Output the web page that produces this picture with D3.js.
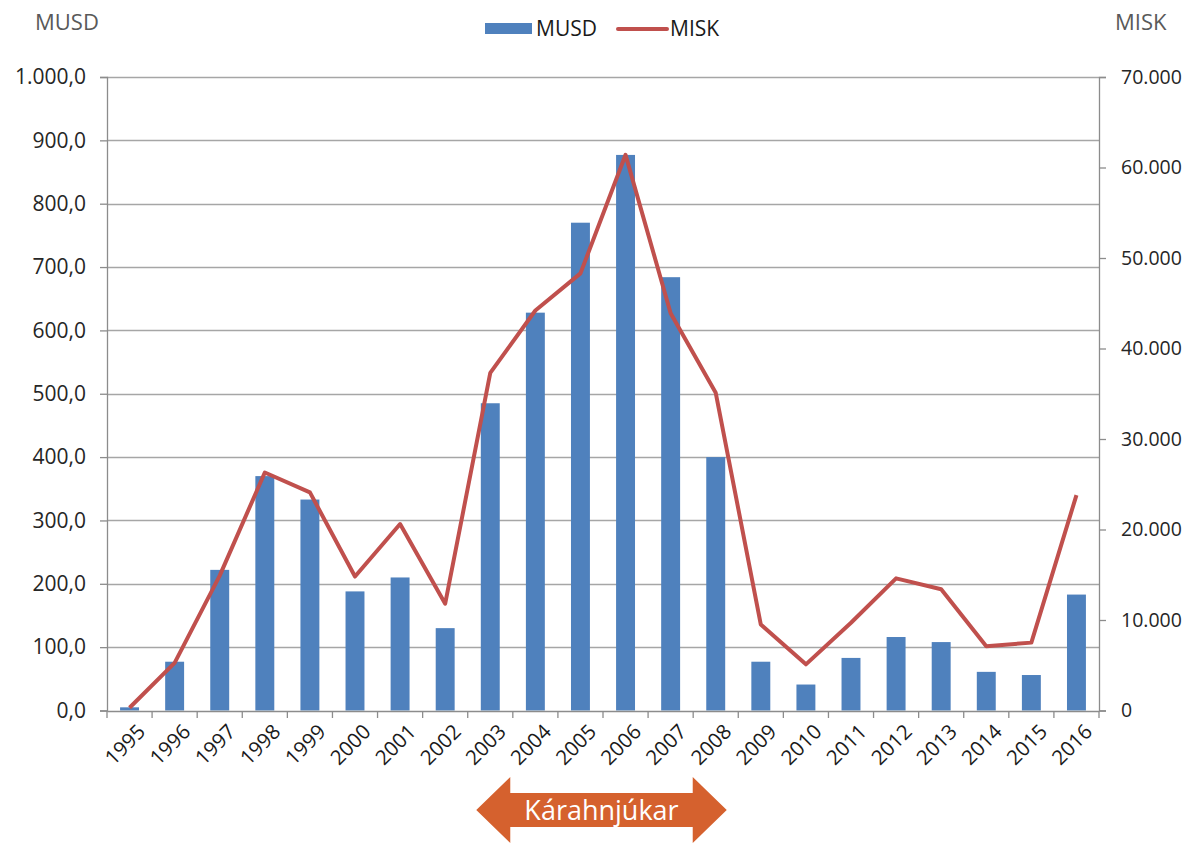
<!DOCTYPE html>
<html>
   <head>
      <script src="https://d3js.org/d3.v7.min.js"></script>
   </head>
   <style>
      body { margin: 0; background: #fff; }
      text { font-family: 'Open Sans', 'Noto Sans', sans-serif; }
   </style>
   <body>
      <script>
         let [width, height] = [1192, 843];
         let margin = {top: 77, right: 93, bottom: 132, left: 107};

         // data
         let years = ['1995','1996','1997','1998','1999','2000','2001','2002','2003','2004','2005',
                      '2006','2007','2008','2009','2010','2011','2012','2013','2014','2015','2016'];
         let musd = [5, 77, 222, 370, 333, 188, 210, 130, 485, 628, 770,
                     877, 684, 400, 77, 41, 83, 116, 108, 61, 56, 183];
         let misk = [300, 5270, 14900, 26300, 24100, 14800, 20600, 11800, 37300, 44200, 48300,
                     61400, 43900, 35100, 9500, 5100, 9700, 14600, 13400, 7100, 7500, 23800];
         let leftTicks = [0, 100, 200, 300, 400, 500, 600, 700, 800, 900, 1000];
         let rightTicks = [0, 10000, 20000, 30000, 40000, 50000, 60000, 70000];

         let svg = d3.select('body').append('svg').attr('width', width).attr('height', height);

         let x = d3.scaleBand().domain(years).range([margin.left, width - margin.right]);
         let yL = d3.scaleLinear().domain([0, 1000]).range([height - margin.bottom - 0.5, margin.top]);
         let yR = d3.scaleLinear().domain([0, 70000]).range([height - margin.bottom - 0.5, margin.top]);

         let fmtL = v => {
            let s = d3.format(',.1f')(v);
            return s.replace(/,/g, '#').replace('.', ',').replace(/#/g, '.');
         };
         let fmtR = v => d3.format(',')(v).replace(/,/g, '.');

         // gridlines
         svg.append('g').selectAll('line').data(leftTicks.slice(1)).enter().append('line')
            .attr('x1', margin.left).attr('x2', width - margin.right)
            .attr('y1', d => Math.round(yL(d)) + 0.5).attr('y2', d => Math.round(yL(d)) + 0.5)
            .attr('stroke', '#a6a6a6').attr('stroke-width', 1.3);

         // left axis
         let axL = svg.append('g').attr('transform', `translate(${margin.left},0)`)
            .call(d3.axisLeft(yL).tickValues(leftTicks).tickFormat(fmtL).tickSize(7).tickPadding(14));
         // right axis
         let axR = svg.append('g').attr('transform', `translate(${width - margin.right},0)`)
            .call(d3.axisRight(yR).tickValues(rightTicks).tickFormat(fmtR).tickSize(7).tickPadding(15));
         [axL, axR].forEach(a => {
            a.select('.domain').attr('stroke', '#8c8c8c').attr('stroke-width', 1.3);
            a.selectAll('.tick line').attr('stroke', '#8c8c8c').attr('stroke-width', 1.3);
            a.selectAll('.tick text').attr('fill', '#262626');
         });
         axL.selectAll('.tick text').style('font-size', '21px');
         axR.selectAll('.tick text').style('font-size', '19.5px');

         // bars
         let barW = x.bandwidth() * 0.42;
         svg.append('g').selectAll('rect').data(musd).enter().append('rect')
            .attr('x', (d, i) => x(years[i]) + (x.bandwidth() - barW) / 2)
            .attr('y', d => yL(d))
            .attr('width', barW)
            .attr('height', d => yL(0) - yL(d))
            .attr('fill', '#4f81bd');

         // bottom axis
         let axB = svg.append('g').attr('transform', `translate(0,${height - margin.bottom})`)
            .call(d3.axisBottom(x).tickSize(0).tickFormat(''));
         axB.select('.domain').attr('stroke', '#8c8c8c').attr('stroke-width', 1.3);
         axB.selectAll('line.cat').data(years.concat(['end'])).enter().append('line')
            .attr('x1', (d, i) => margin.left + i * x.step()).attr('x2', (d, i) => margin.left + i * x.step())
            .attr('y1', 0).attr('y2', 7).attr('stroke', '#8c8c8c').attr('stroke-width', 1.3);
         axB.selectAll('text.yr').data(years).enter().append('text')
            .attr('transform', d => `translate(${x(d) + x.bandwidth() / 2 + 12},${17}) rotate(-45)`)
            .attr('text-anchor', 'end')
            .attr('dy', '0.35em')
            .style('font-size', '20.5px')
            .attr('fill', '#1a1a1a')
            .text(d => d);

         // line
         let line = d3.line()
            .x((d, i) => x(years[i]) + x.bandwidth() / 2)
            .y(d => yR(d));
         svg.append('path').datum(misk)
            .attr('d', line)
            .attr('fill', 'none')
            .attr('stroke', '#c0504d')
            .attr('stroke-width', 4)
            .attr('stroke-linejoin', 'round');

         // axis titles
         svg.append('text').attr('x', 35).attr('y', 30).text('MUSD')
            .style('font-size', '22px').attr('fill', '#595959');
         svg.append('text').attr('x', 1115).attr('y', 30).text('MISK')
            .style('font-size', '22px').attr('fill', '#595959');

         // legend
         let leg = svg.append('g');
         leg.append('rect').attr('x', 485).attr('y', 23).attr('width', 47).attr('height', 11).attr('fill', '#4f81bd');
         leg.append('text').attr('x', 536).attr('y', 36).text('MUSD').style('font-size', '21px').attr('fill', '#1a1a1a');
         leg.append('line').attr('x1', 618).attr('x2', 667).attr('y1', 29).attr('y2', 29)
            .attr('stroke', '#c0504d').attr('stroke-width', 4).attr('stroke-linecap', 'round');
         leg.append('text').attr('x', 670).attr('y', 36).text('MISK').style('font-size', '21px').attr('fill', '#1a1a1a');

         // Kárahnjúkar arrow (2003-2008)
         let aL = x('2003') + x.bandwidth() / 2 - 14, aR = x('2008') + x.bandwidth() / 2 + 11;
         let cy = 810, headW = 34, shaftH = 17, headH = 33;
         let pts = [[aL, cy], [aL + headW, cy - headH], [aL + headW, cy - shaftH], [aR - headW, cy - shaftH],
                    [aR - headW, cy - headH], [aR, cy], [aR - headW, cy + headH], [aR - headW, cy + shaftH],
                    [aL + headW, cy + shaftH], [aL + headW, cy + headH]];
         svg.append('path').attr('d', d3.line()(pts) + 'Z').attr('fill', '#d5612e');
         svg.append('text').attr('x', (aL + aR) / 2).attr('y', cy + 10).attr('text-anchor', 'middle')
            .style('font-size', '27px').attr('fill', '#fff').text('Kárahnjúkar');
      </script>
   </body>
</html>
